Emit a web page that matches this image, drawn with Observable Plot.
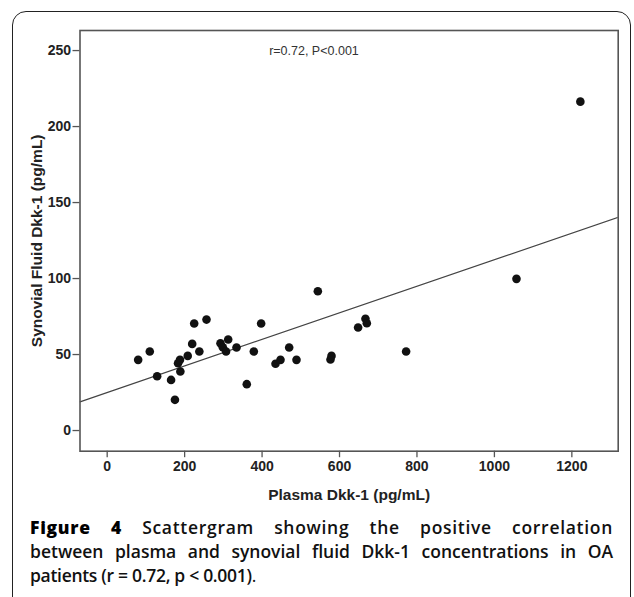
<!DOCTYPE html>
<html>
<head>
<meta charset="utf-8">
<script src="https://cdn.jsdelivr.net/npm/d3@7"></script>
<script src="https://cdn.jsdelivr.net/npm/@observablehq/plot@0.6"></script>
<style>
  html, body { margin: 0; padding: 0; background: #fff; }
  body { width: 634px; height: 597px; position: relative; overflow: hidden; }
  #box { position: absolute; left: 12px; top: 11px; width: 619px; height: 700px;
         border: 1.5px solid #222; border-radius: 14px 14px 0 0; box-sizing: border-box; }
  #chart { position: absolute; left: 0; top: 0; }
  #caption { position: absolute; left: 30px; top: 515px; width: 583px;
             font-family: "Open Sans", "DejaVu Sans", sans-serif; font-size: 17.5px;
             font-weight: 600; line-height: 24px; color: #111; }
  #caption .ln { text-align: justify; text-align-last: justify; white-space: nowrap; }
  #caption .ln.first { letter-spacing: 0.7px; }
  #caption .ln.last { text-align-last: left; letter-spacing: -0.3px; }
  #caption b { font-weight: 800; color: #000; }
  #caption .p { font-weight: 400; }
</style>
</head>
<body>
<div id="box"></div>
<div id="chart"></div>
<div id="caption">
  <div class="ln first"><b>Figure 4</b> Scattergram showing the positive correlation</div>
  <div class="ln">between plasma and synovial fluid Dkk-1 concentrations in OA</div>
  <div class="ln last">patients (r = 0.72, p &lt; 0.001)<span class="p">.</span></div>
</div>
<script>
// Plasma Dkk-1 (pg/mL)
const plasma = [80,110,129,165,175,183,188,189,208,219.5,224.7,238,256.5,292.6,298.6,307,312.5,334,360.5,378.7,397.6,434.7,447.6,470,488.9,544,576.7,579.3,648,667,670.5,772,1057,1222];
// Synovial fluid Dkk-1 (pg/mL)
const synovial = [46.5,52,35.7,33.3,20.2,44.3,46.5,38.8,49.1,57,70.4,52,73,57.4,54.8,52,59.9,54.6,30.5,52,70.4,43.9,46.5,54.6,46.5,91.6,46.7,49.1,67.8,73.5,70.6,52,99.8,216.4];
// Fit line
const fitIntercept = 25.0;
const fitSlope = 0.0874;
const xTicks = [0,200,400,600,800,1000,1200];
const yTicks = [0,50,100,150,200,250];
const xDomain = [-70.2, 1319.7];
const yDomain = [-13.6, 263.2];
const annotation = [{x: 534, y: 250, text: "r=0.72, P<0.001"}];

const points = plasma.map((p, i) => ({x: p, y: synovial[i]}));
const fit = xDomain.map(x => ({x, y: fitIntercept + fitSlope * x}));

const narrow = "'Liberation Sans Narrow', 'Liberation Sans', Arial, sans-serif";

const plot = Plot.plot({
  width: 634,
  height: 505,
  marginLeft: 79.5,
  marginRight: 16.3,
  marginTop: 30,
  marginBottom: 54.3,
  style: {fontFamily: narrow, fontSize: "15px", fontWeight: "bold", color: "#222", background: "transparent"},
  x: {domain: xDomain},
  y: {domain: yDomain},
  marks: [
    Plot.axisX({ticks: xTicks, tickSize: 6.5, tickPadding: 3, stroke: "#555", strokeWidth: 1.3,
      tickFormat: d => String(d), fontFamily: narrow, fontWeight: "bold", fontSize: 14, fill: "#222",
      label: null}),
    Plot.axisX({ticks: [], label: "Plasma Dkk-1 (pg/mL)", labelAnchor: "center", labelOffset: 49, labelArrow: "none",
      fontFamily: narrow, fontWeight: "bold", fontSize: 15.5, fill: "#222", tickSize: 0}),
    Plot.axisY({ticks: yTicks, tickSize: 7, tickPadding: 2, stroke: "#555", strokeWidth: 1.3,
      tickFormat: d => String(d), fontFamily: narrow, fontWeight: "bold", fontSize: 14, fill: "#222",
      label: null}),
    Plot.axisY({ticks: [], label: "Synovial Fluid Dkk-1 (pg/mL)", labelAnchor: "center", labelOffset: 49, labelArrow: "none",
      fontFamily: narrow, fontWeight: "bold", fontSize: 15.5, fill: "#222", tickSize: 0}),
    Plot.line(fit, {x: "x", y: "y", stroke: "#444", strokeWidth: 1.2, clip: true}),
    Plot.dot(points, {x: "x", y: "y", r: 4.3, fill: "#111", stroke: "none"}),
    Plot.text(annotation, {x: "x", y: "y", text: "text", fontFamily: "'Liberation Sans', Arial, sans-serif",
      fontSize: 12.5, fontWeight: "normal", fill: "#333"}),
    Plot.frame({stroke: "#555", strokeWidth: 1.6})
  ]
});
document.getElementById("chart").appendChild(plot);
</script>
</body>
</html>
